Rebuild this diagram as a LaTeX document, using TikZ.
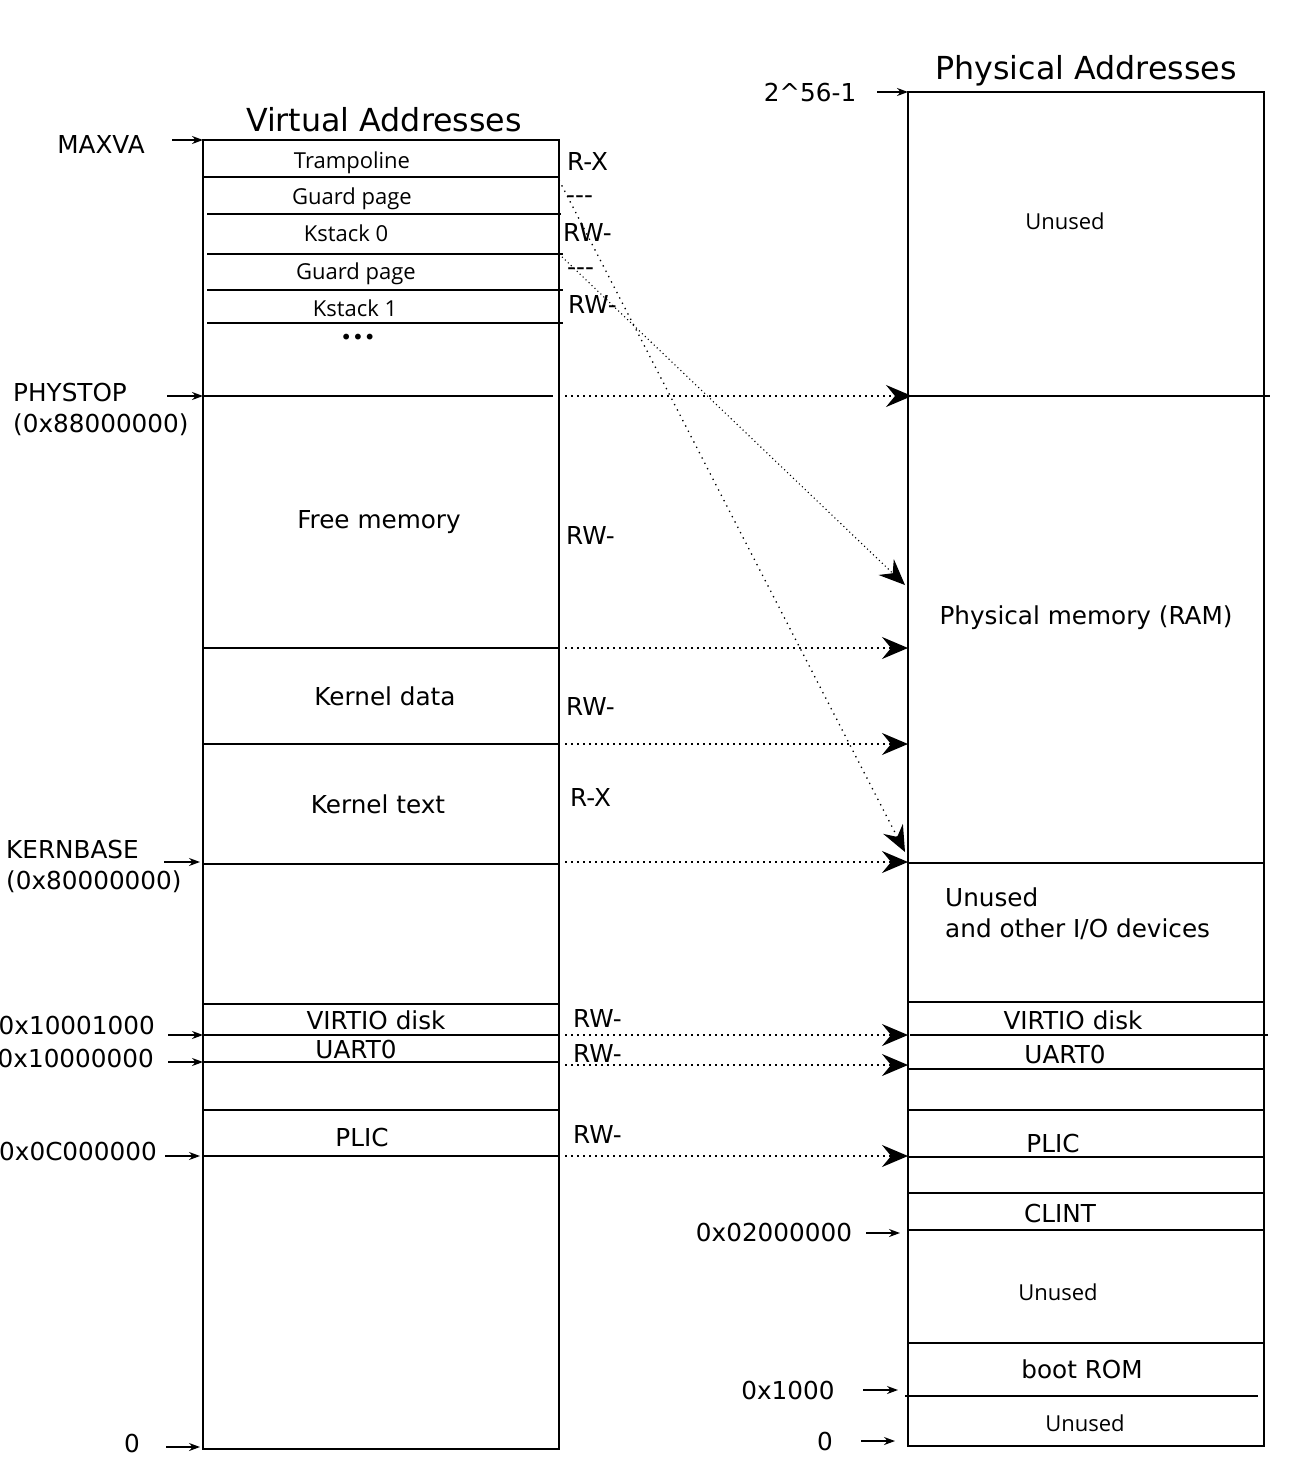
\documentclass[tikz,border=0pt]{standalone}
\usepackage{fontspec}
\setmainfont{DejaVu Sans}
\newfontfamily\smallfont{Open Sans}
\usetikzlibrary{arrows.meta}
\begin{document}
\begin{tikzpicture}[x=1pt,y=-1pt,
  lbl/.style={font=\fontsize{24.7}{28}\selectfont, inner sep=0pt, anchor=base},
  ttl/.style={font=\fontsize{31.7}{36}\selectfont, inner sep=0pt, anchor=base},
  sml/.style={font=\smallfont\fontsize{22}{26}\selectfont, inner sep=0pt, anchor=base},
  box/.style={line width=2.6pt},
  sep/.style={line width=1.9pt},
  map/.style={line width=1.6pt, dash pattern=on 1.6pt off 4.4pt, -{Stealth[length=26pt,width=22pt,inset=9pt]}},
  ptr/.style={line width=1.5pt, -{Stealth[length=11pt,width=8pt]}}]
\fill[white] (0,0) rectangle (1288,1472);
\useasboundingbox (0,0) rectangle (1288,1472);

% ---------- Virtual address box ----------
\draw[box] (203,140) rectangle (559,1449);
\draw[sep] (203,177) -- (559,177);
\draw[sep] (207,214) -- (561,214);
\draw[sep] (207,254) -- (563,254);
\draw[sep] (207,290) -- (563,290);
\draw[sep] (207,323) -- (563,323);
\draw[sep] (203,396) -- (553,396);
\draw[sep] (203,648) -- (559,648);
\draw[sep] (203,744) -- (559,744);
\draw[sep] (203,864) -- (559,864);
\draw[sep] (203,1004) -- (559,1004);
\draw[sep] (203,1035) -- (559,1035);
\draw[sep] (203,1062) -- (559,1062);
\draw[sep] (203,1110) -- (559,1110);
\draw[sep] (203,1156) -- (559,1156);

\node[ttl] (vtitle) at (384,131) {Virtual Addresses};
\node[sml] (tramp) at (352,168) {Trampoline};
\node[sml] (guard0) at (352,204) {Guard page};
\node[sml] (kst0) at (346,241) {Kstack 0};
\node[sml] (guard1) at (356,279) {Guard page};
\node[sml] (kst1) at (355,316) {Kstack 1};
\node[lbl, font=\fontsize{20}{24}\selectfont] (dots) at (358,344) {•••};
\node[lbl] (free) at (379,528) {Free memory};
\node[lbl] (kdata) at (385,705) {Kernel data};
\node[lbl] (ktext) at (378,813) {Kernel text};
\node[lbl] (vvirtio) at (376,1029) {VIRTIO disk};
\node[lbl] (vuart) at (356,1058) {UART0};
\node[lbl] (vplic) at (362,1146) {PLIC};

% permissions
\node[lbl, anchor=base west] (p1) at (567,170) {R-X};
\node[lbl, anchor=base west] (p2) at (566,203) {-{}-{}-};
\node[lbl, anchor=base west] (p3) at (563,241) {RW-};
\node[lbl, anchor=base west] (p4) at (567,275) {-{}-{}-};
\node[lbl, anchor=base west] (p5) at (568,313) {RW-};
\node[lbl, anchor=base west] (p6) at (566,544) {RW-};
\node[lbl, anchor=base west] (p7) at (566,715) {RW-};
\node[lbl, anchor=base west] (p8) at (570,806) {R-X};
\node[lbl, anchor=base west] (p9) at (573,1027) {RW-};
\node[lbl, anchor=base west] (p10) at (573,1062) {RW-};
\node[lbl, anchor=base west] (p11) at (573,1143) {RW-};

% left address labels
\node[lbl] (maxva) at (101,153) {MAXVA};
\node[lbl, anchor=base west] (phystop) at (13,401) {PHYSTOP};
\node[lbl, anchor=base west] (phystopv) at (13,432) {(0x88000000)};
\node[lbl, anchor=base west] (kbase) at (6,858) {KERNBASE};
\node[lbl, anchor=base west] (kbasev) at (6,889) {(0x80000000)};
\node[lbl, anchor=base east] (a1) at (155,1034) {0x10001000};
\node[lbl, anchor=base east] (a2) at (154,1067) {0x10000000};
\node[lbl, anchor=base east] (a3) at (157,1160) {0x0C000000};
\node[lbl] (a0) at (132,1452) {0};

\coordinate (maxvaS) at (172,140);  \coordinate (maxvaE) at (203,140);
\coordinate (phyS) at (167,396);    \coordinate (phyE) at (203,396);
\coordinate (kbS) at (164,862);     \coordinate (kbE) at (200,862);
\coordinate (a1S) at (168,1035);    \coordinate (a1E) at (203,1035);
\coordinate (a2S) at (168,1062);    \coordinate (a2E) at (203,1062);
\coordinate (a3S) at (165,1156);    \coordinate (a3E) at (200,1156);
\coordinate (a0S) at (166,1447);    \coordinate (a0E) at (200,1447);
\draw[ptr] (maxvaS) -- (maxvaE);
\draw[ptr] (phyS) -- (phyE);
\draw[ptr] (kbS) -- (kbE);
\draw[ptr] (a1S) -- (a1E);
\draw[ptr] (a2S) -- (a2E);
\draw[ptr] (a3S) -- (a3E);
\draw[ptr] (a0S) -- (a0E);

% ---------- Physical address box ----------
\draw[box] (908,92) rectangle (1264,1446);
\draw[sep] (908,396) -- (1270,396);
\draw[sep] (908,863) -- (1264,863);
\draw[sep] (908,1002) -- (1264,1002);
\draw[sep] (910,1035) -- (1268,1035);
\draw[sep] (908,1069) -- (1264,1069);
\draw[sep] (908,1110) -- (1264,1110);
\draw[sep] (908,1157) -- (1264,1157);
\draw[sep] (908,1193) -- (1264,1193);
\draw[sep] (908,1230) -- (1264,1230);
\draw[sep] (908,1343) -- (1264,1343);
\draw[sep] (905,1396) -- (1258,1396);

\node[ttl] (ptitle) at (1086,80) {Physical Addresses};
\node[sml] (unused1) at (1065,229) {Unused};
\node[lbl] (ram) at (1086,624) {Physical memory (RAM)};
\node[lbl, anchor=base west] (unused2) at (945,906) {Unused};
\node[lbl, anchor=base west] (io) at (945,937) {and other I/O devices};
\node[lbl] (pvirtio) at (1073,1029) {VIRTIO disk};
\node[lbl] (puart) at (1065,1063) {UART0};
\node[lbl] (pplic) at (1053,1152) {PLIC};
\node[lbl] (clint) at (1060,1222) {CLINT};
\node[sml] (unused3) at (1058,1300) {Unused};
\node[lbl] (brom) at (1082,1378) {boot ROM};
\node[sml] (unused4) at (1085,1431) {Unused};

\node[lbl] (top) at (810,101) {2\textasciicircum 56-1};
\node[lbl] (clintA) at (774,1241) {0x02000000};
\node[lbl] (bootA) at (788,1399) {0x1000};
\node[lbl] (pzero) at (825,1450) {0};

\coordinate (topS) at (877,92);     \coordinate (topE) at (908,92);
\coordinate (clS) at (866,1233);    \coordinate (clE) at (900,1233);
\coordinate (brS) at (863,1390);    \coordinate (brE) at (898,1390);
\coordinate (pzS) at (861,1441);    \coordinate (pzE) at (895,1441);
\draw[ptr] (topS) -- (topE);
\draw[ptr] (clS) -- (clE);
\draw[ptr] (brS) -- (brE);
\draw[ptr] (pzS) -- (pzE);

% ---------- mappings ----------
\coordinate (v1) at (565,396);   \coordinate (q1) at (912,396);
\coordinate (v2) at (565,648);   \coordinate (q2) at (908,648);
\coordinate (v3) at (565,744);   \coordinate (q3) at (908,744);
\coordinate (v4) at (565,862);   \coordinate (q4) at (908,862);
\coordinate (v5) at (565,1035);  \coordinate (q5) at (908,1035);
\coordinate (v6) at (565,1065);  \coordinate (q6) at (908,1065);
\coordinate (v7) at (565,1156);  \coordinate (q7) at (908,1156);
\draw[map] (v1) -- (q1);
\draw[map] (v2) -- (q2);
\draw[map] (v3) -- (q3);
\draw[map] (v4) -- (q4);
\draw[map] (v5) -- (q5);
\draw[map] (v6) -- (q6);
\draw[map] (v7) -- (q7);

\coordinate (trS) at (559,180);  \coordinate (trE) at (905,852);
\coordinate (ksS) at (559,254);  \coordinate (ksE) at (905,585);
\draw[map, line width=1.3pt, dash pattern=on 1.3pt off 4.7pt] (trS) -- (trE);
\draw[map, line width=1.1pt, dash pattern=on 1.1pt off 3pt] (ksS) -- (ksE);
\end{tikzpicture}
\end{document}
